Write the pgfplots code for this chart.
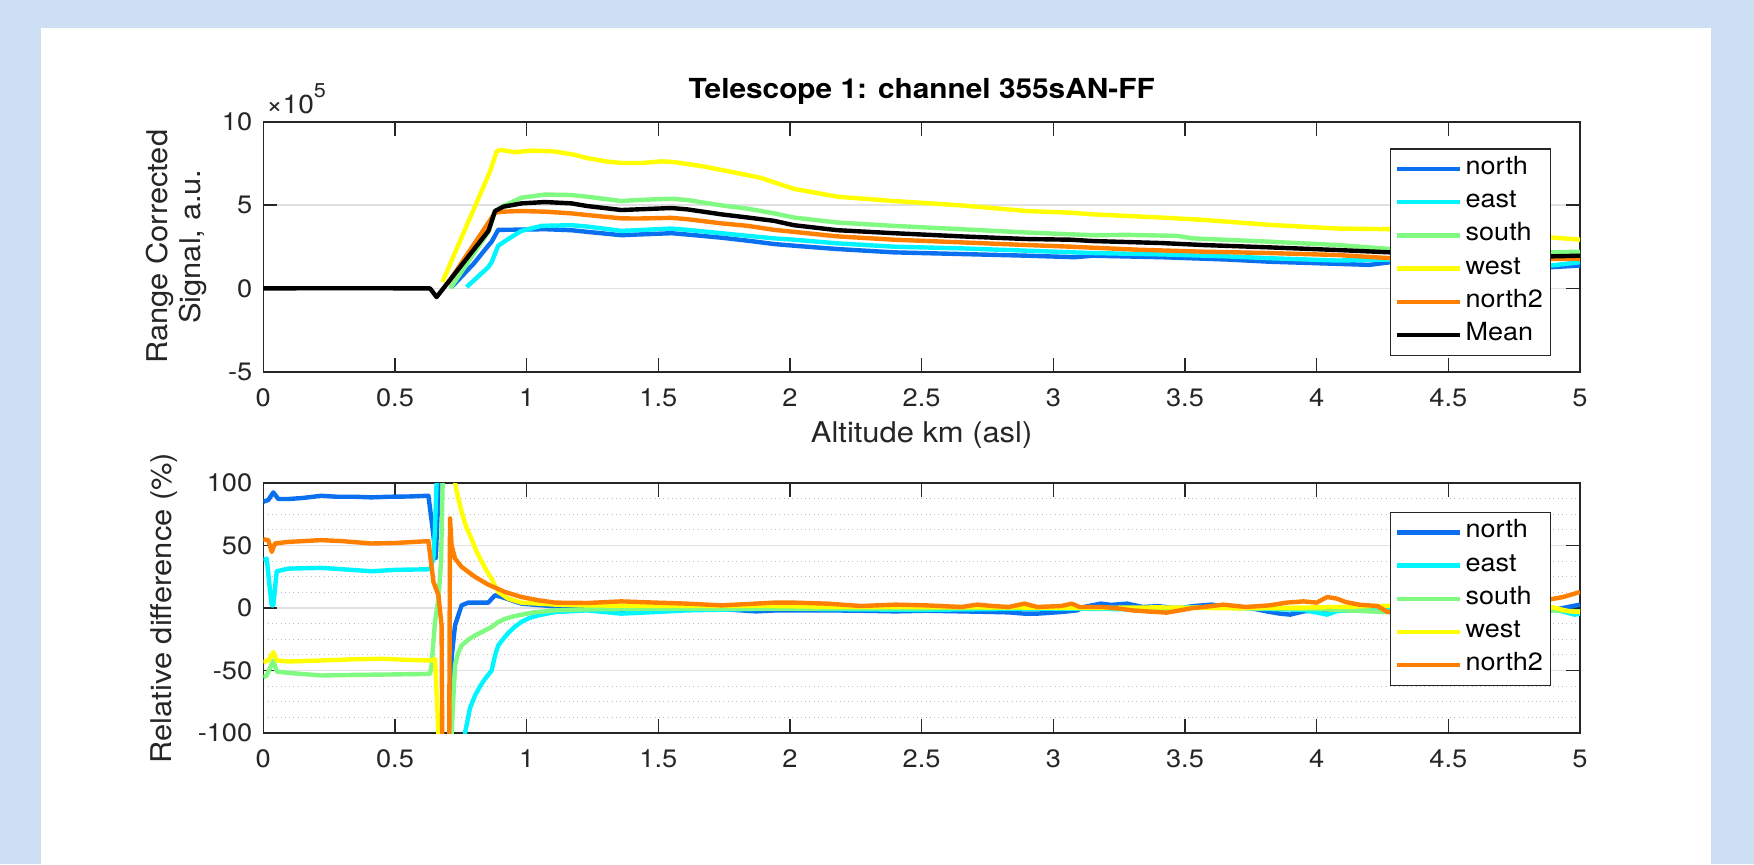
\documentclass[border=0pt]{standalone}
\usepackage{fontspec}
\setmainfont{TeX Gyre Heros}[FakeStretch=1.08]
\usepackage{pgfplots}
\pgfplotsset{compat=1.18}
\definecolor{bgblue}{RGB}{205,224,243}
\definecolor{cN}{RGB}{10,112,240}
\definecolor{cE}{RGB}{0,245,255}
\definecolor{cS}{RGB}{128,250,128}
\definecolor{cW}{RGB}{255,255,0}
\definecolor{cNt}{RGB}{255,128,0}
\definecolor{axgray}{RGB}{38,38,38}
\definecolor{gridgray}{RGB}{225,225,225}
\definecolor{mgridgray}{RGB}{190,190,190}

\pgfplotsset{mystyle/.style={
  scale only axis, width=658.35pt, height=125pt,
  xmin=0, xmax=5, xtick={0,0.5,1,1.5,2,2.5,3,3.5,4,4.5,5},
  axis line style={axgray, line width=0.8pt},
  tick style={axgray, line width=0.8pt},
  major tick length=7pt,
  tick align=inside,
  xtick pos=both, ytick pos=both,
  ticklabel style={font=\fontsize{12.6}{14}\selectfont, text=axgray},
  /pgf/number format/assume math mode=true,
  xticklabel style={yshift=-5pt},
  yticklabel style={xshift=-2pt},
  ymajorgrids,
  major grid style={line width=0.6pt, color=gridgray},
  clip mode=individual,
  unbounded coords=jump,
  every axis plot/.append style={line width=2.2pt, line join=round},
  legend cell align=left,
  legend image code/.code={\draw[#1] (0pt,0pt) -- (31.5pt,0pt);},
  label style={font=\fontsize{14.3}{16.5}\selectfont, text=axgray},
}}

\begin{document}
\begin{tikzpicture}
\fill[bgblue] (0,0) rectangle (877pt,432pt);
\fill[white] (20.35pt,0) rectangle (855.5pt,418pt);

\begin{axis}[mystyle, at={(131.65pt,246.15pt)}, anchor=south west,
  ymin=-5, ymax=10, ytick={-5,0,5,10},
  title={Telescope 1: channel 355sAN-FF},
  title style={at={(axis description cs:0.5,1)}, anchor=base, yshift=5.85pt, font=\bfseries\fontsize{13.8}{16}\selectfont, text=black},
  xlabel={Altitude km (asl)},
  xlabel style={at={(axis description cs:0.5,-0.285)}, anchor=base},
  ylabel={Range Corrected\\Signal, a.u.},
  ylabel style={at={(axis description cs:-0.0663,0.5)}, anchor=center, align=center},
  legend style={at={(axis description cs:0.978,0.8936)}, anchor=north east,
    draw=axgray, line width=0.6pt, fill=white, inner xsep=2pt, inner ysep=1.75pt,
    font=\fontsize{12.5}{15}\selectfont, row sep=0pt,
    nodes={inner sep=1.75pt, text height=9.3pt, text depth=3.8pt}},
  extra description/.code={\node[anchor=base west, font=\fontsize{13}{15}\selectfont, text=axgray, inner sep=0pt] at (0.002,1.034) {×10\raisebox{0.62em}{\fontsize{10}{12}\selectfont 5}};},
]
\addplot[cN] coordinates {
(0.715,0.08) (0.80,1.5) (0.854,2.56) (0.867,2.8) (0.892,3.51) (0.95,3.52) (1.07,3.55) (1.17,3.49) (1.23,3.39) (1.36,3.19) (1.42,3.23) (1.55,3.31) (1.61,3.23) (1.74,3.04) (1.84,2.86) (1.94,2.66) (2.015,2.56) (2.18,2.36) (2.395,2.16) (2.65,2.06) (2.9,1.96) (3.08,1.87) (3.15,1.96) (3.41,1.87) (3.66,1.73) (3.82,1.6) (4.08,1.47) (4.2,1.41) (4.28,1.57) (4.5,1.45) (4.7,1.35) (4.89,1.27) (5.0,1.37)};
\addlegendentry{north}
\addplot[cE] coordinates {
(0.772,0.08) (0.854,1.27) (0.867,1.57) (0.892,2.56) (0.93,2.96) (0.98,3.45) (1.057,3.75) (1.17,3.79) (1.23,3.71) (1.36,3.45) (1.42,3.49) (1.55,3.59) (1.61,3.51) (1.74,3.31) (1.84,3.15) (1.94,3.0) (2.015,2.92) (2.18,2.7) (2.395,2.5) (2.65,2.4) (2.9,2.26) (3.15,2.12) (3.41,2.04) (3.66,1.92) (3.82,1.81) (4.08,1.67) (4.28,1.73) (4.5,1.6) (4.7,1.5) (4.89,1.37) (5.0,1.57)};
\addlegendentry{east}
\addplot[cS] coordinates {
(0.71,0.0) (0.855,3.4) (0.88,4.6) (0.911,4.94) (0.98,5.44) (1.07,5.63) (1.17,5.6) (1.23,5.5) (1.36,5.24) (1.42,5.3) (1.55,5.38) (1.61,5.3) (1.74,4.98) (1.84,4.78) (1.94,4.5) (2.015,4.25) (2.18,3.95) (2.395,3.75) (2.65,3.55) (2.9,3.35) (3.15,3.19) (3.28,3.21) (3.47,3.15) (3.53,3.0) (3.82,2.8) (4.08,2.6) (4.28,2.36) (4.5,2.25) (4.7,2.2) (4.89,2.16) (5.0,2.2)};
\addlegendentry{south}
\addplot[cW] coordinates {
(0.68,0.38) (0.861,7.02) (0.886,8.21) (0.9,8.31) (0.956,8.17) (1.02,8.27) (1.108,8.21) (1.18,8.02) (1.23,7.82) (1.30,7.62) (1.36,7.52) (1.44,7.52) (1.51,7.62) (1.56,7.58) (1.67,7.32) (1.80,6.92) (1.889,6.63) (2.015,5.97) (2.18,5.5) (2.395,5.24) (2.65,4.98) (2.9,4.64) (3.066,4.54) (3.15,4.44) (3.41,4.25) (3.57,4.11) (3.82,3.81) (4.08,3.59) (4.28,3.55) (4.5,3.4) (4.7,3.2) (4.89,3.06) (5.0,2.92)};
\addlegendentry{west}
\addplot[cNt] coordinates {
(0.70,0.28) (0.88,4.54) (0.905,4.6) (0.98,4.64) (1.07,4.6) (1.17,4.5) (1.23,4.4) (1.36,4.2) (1.42,4.19) (1.55,4.23) (1.61,4.15) (1.74,3.9) (1.84,3.75) (1.94,3.51) (2.015,3.39) (2.18,3.12) (2.395,2.92) (2.65,2.76) (2.9,2.6) (3.066,2.5) (3.32,2.32) (3.57,2.2) (3.82,2.12) (4.08,2.0) (4.28,1.81) (4.5,1.78) (4.7,1.77) (4.89,1.77) (5.0,1.77)};
\addlegendentry{north2}
\addplot[black] coordinates {
(0,0) (0.3,0.01) (0.633,0.0) (0.658,-0.52) (0.855,3.45) (0.88,4.64) (0.911,4.9) (0.981,5.1) (1.07,5.18) (1.17,5.1) (1.23,4.94) (1.36,4.7) (1.42,4.74) (1.55,4.82) (1.61,4.74) (1.74,4.44) (1.84,4.25) (1.94,4.05) (2.015,3.79) (2.18,3.49) (2.395,3.31) (2.65,3.12) (2.9,2.96) (3.066,2.92) (3.15,2.84) (3.41,2.72) (3.57,2.6) (3.82,2.46) (4.08,2.3) (4.28,2.16) (4.5,2.05) (4.7,1.98) (4.89,1.92) (5.0,1.96)};
\addlegendentry{Mean}
\end{axis}

\begin{axis}[mystyle, at={(131.65pt,65.5pt)}, anchor=south west,
  ymin=-100, ymax=100, ytick={-100,-50,0,50,100},
  minor ytick={-87.5,-75,-62.5,-37.5,-25,-12.5,12.5,25,37.5,62.5,75,87.5},
  yminorgrids, minor tick length=0pt,
  minor grid style={line width=0.5pt, color=mgridgray, dash pattern=on 0.5pt off 1.65pt},
  ylabel={Relative difference (\%)},
  ylabel style={at={(axis description cs:-0.0755,0.5)}, anchor=center},
  legend style={at={(axis description cs:0.978,0.885)}, anchor=north east,
    draw=axgray, line width=0.6pt, fill=white, inner xsep=2pt, inner ysep=1.75pt,
    font=\fontsize{12.5}{15}\selectfont, row sep=0pt,
    nodes={inner sep=1.75pt, text height=9.3pt, text depth=3.8pt}},
]
\addplot[cN] coordinates {
(0,85) (0.019,86.4) (0.038,92.5) (0.057,87.2) (0.095,87.2) (0.15,88) (0.22,89.8) (0.28,89) (0.348,89) (0.41,88.5) (0.475,89) (0.55,89.2) (0.627,89.8) (0.645,60) (0.655,40) (0.662,75) (0.672,150) (0.69,nan) (0.705,-150) (0.715,-40) (0.728,-13.9) (0.753,2.1) (0.778,4.3) (0.854,4.3) (0.88,10.2) (0.905,8.8) (0.98,3.5) (1.108,1.3) (1.23,0.8) (1.36,-1.5) (1.5,-0.5) (1.75,-1.0) (1.87,-2.7) (1.94,-2.0) (2.015,-2.0) (2.14,-1.9) (2.27,-2.2) (2.4,-2.7) (2.52,-2.2) (2.65,-2.7) (2.77,-3.2) (2.83,-3.5) (2.89,-4.5) (2.94,-4.5) (3.03,-3.2) (3.09,-1.9) (3.12,1.0) (3.18,3.5) (3.22,2.5) (3.28,3.5) (3.34,0.8) (3.4,1.5) (3.47,-0.5) (3.53,1.5) (3.6,2.7) (3.66,1.0) (3.72,0.8) (3.77,-1.0) (3.81,-2.7) (3.86,-4.5) (3.9,-5.3) (3.95,-2.7) (4.0,-2.0) (4.076,-1.1) (4.14,-0.2) (4.2,0.8) (4.27,-1.1) (4.4,-0.5) (4.6,-1.5) (4.75,-1.0) (4.89,-1.9) (4.936,0) (5.0,2.7)};
\addlegendentry{north}
\addplot[cE] coordinates {
(0,38.2) (0.013,39.6) (0.025,15) (0.032,2.1) (0.038,2.1) (0.051,29.4) (0.095,31.5) (0.22,32.1) (0.3,31) (0.41,29.4) (0.5,30.5) (0.633,31) (0.646,39.6) (0.652,63.6) (0.658,100) (0.664,200) (0.7,nan) (0.74,-200) (0.766,-100) (0.785,-80) (0.804,-70) (0.825,-62) (0.842,-56.7) (0.867,-50) (0.88,-38) (0.892,-30) (0.91,-25) (0.93,-20) (0.955,-15) (0.98,-11.2) (1.01,-8) (1.044,-5.9) (1.108,-3.2) (1.23,-1.9) (1.36,-4.5) (1.49,-3.2) (1.61,-1.9) (1.94,-0.5) (2.2,-1.0) (2.5,-1.5) (2.8,-0.8) (3.06,-0.5) (3.3,-1.0) (3.57,0.8) (3.82,-0.8) (3.95,-1.5) (4.04,-5.3) (4.076,-2.5) (4.2,-1.0) (4.5,-0.5) (4.89,-0.5) (4.98,-5.3) (5.0,-4.5)};
\addlegendentry{east}
\addplot[cS] coordinates {
(0,-55.4) (0.013,-54) (0.038,-42) (0.051,-50.8) (0.095,-51.9) (0.22,-54) (0.35,-53.5) (0.475,-53.2) (0.633,-52.7) (0.639,-46) (0.652,-11.2) (0.665,7.5) (0.675,36.9) (0.681,100) (0.686,200) (0.695,nan) (0.705,-200) (0.715,-100) (0.728,-46) (0.74,-36) (0.753,-30) (0.78,-25) (0.804,-22) (0.867,-15.2) (0.892,-11.2) (0.92,-8.5) (0.956,-6.4) (1.02,-3.7) (1.108,-1.9) (1.23,-1.1) (1.49,-0.5) (1.94,-0.5) (2.5,-0.3) (3.0,0.5) (3.3,-0.5) (3.6,0.5) (4.0,-0.8) (4.2,-2.7) (4.3,-3.5) (4.89,-1.9) (5.0,-2.7)};
\addlegendentry{south}
\addplot[cW] coordinates {
(0,-43.3) (0.019,-42) (0.038,-35.3) (0.051,-42) (0.095,-42.8) (0.22,-42) (0.35,-41) (0.45,-40.6) (0.55,-41.5) (0.64,-42) (0.652,-40.6) (0.665,-100) (0.67,-200) (0.69,nan) (0.715,200) (0.728,100) (0.74,88) (0.753,77) (0.77,65) (0.79,55.6) (0.81,45) (0.83,36.9) (0.85,29) (0.867,23.5) (0.892,12.8) (0.93,7.5) (0.98,4.3) (1.108,2.7) (1.23,2.1) (1.49,1.6) (1.94,1.6) (2.2,0.8) (2.5,0.8) (2.8,0.5) (3.1,0.0) (3.4,0.5) (3.7,-0.3) (4.0,0.5) (4.23,1.5) (4.3,2.0) (4.89,0.8) (4.96,-2.7) (5.0,-3.2)};
\addlegendentry{west}
\addplot[cNt] coordinates {
(0,55) (0.019,54.3) (0.032,44.9) (0.044,51.6) (0.095,52.9) (0.15,53.5) (0.22,54.3) (0.3,53.5) (0.41,51.6) (0.5,52) (0.627,53.5) (0.646,20.9) (0.665,10.2) (0.677,-13.9) (0.685,-300) (0.703,-300) (0.709,71.7) (0.715,50.3) (0.728,39.6) (0.753,32.9) (0.804,24.9) (0.854,18.7) (0.918,12.8) (0.98,8.8) (1.044,6.2) (1.108,4.3) (1.23,4.0) (1.36,5.3) (1.49,4.3) (1.61,3.5) (1.74,2.1) (1.87,3.5) (1.94,4.3) (2.015,4.3) (2.14,3.5) (2.27,1.6) (2.4,2.7) (2.52,2.1) (2.65,0.8) (2.71,2.7) (2.77,1.6) (2.83,0.8) (2.89,3.5) (2.94,0.8) (3.03,1.6) (3.07,3.5) (3.1,0.8) (3.19,0.8) (3.253,-0.5) (3.30,-1.9) (3.354,-2.7) (3.43,-3.7) (3.48,-1.9) (3.53,0) (3.57,0.8) (3.646,2.7) (3.73,0.8) (3.82,2.1) (3.886,4.3) (3.95,5.3) (4.0,4.3) (4.04,8.8) (4.076,7.5) (4.11,4.8) (4.16,2.7) (4.23,1.6) (4.27,-3.2) (4.4,-1.0) (4.6,2.0) (4.75,4.0) (4.89,7) (4.936,8.8) (5.0,12.8)};
\addlegendentry{north2}
\end{axis}
\end{tikzpicture}
\end{document}
